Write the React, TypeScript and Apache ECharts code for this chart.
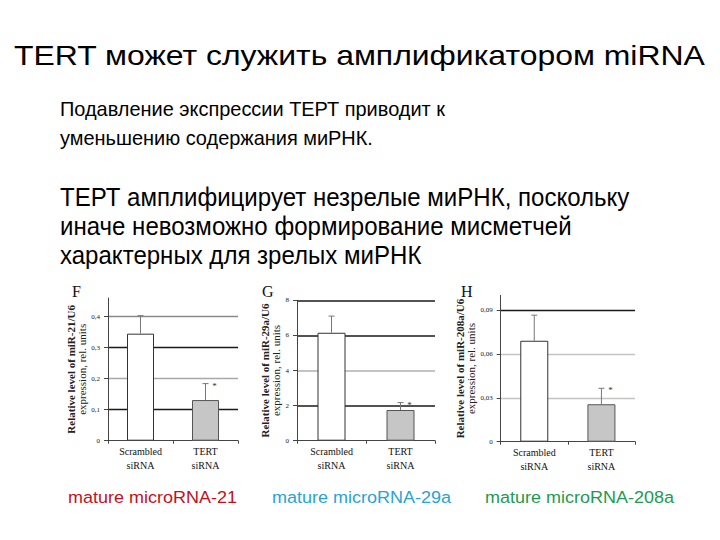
import React, { useEffect, useRef } from "react";
import * as echarts from "echarts";

// ---------- data ----------
const TITLE = "TERT может служить амплификатором miRNA";
const PARAGRAPH_1 = [
  "Подавление экспрессии ТЕРТ приводит к",
  "уменьшению содержания миРНК.",
];
const PARAGRAPH_2 = [
  "ТЕРТ амплифицирует незрелые миРНК, поскольку",
  "иначе невозможно формирование мисметчей",
  "характерных для зрелых миРНК",
];
const CATEGORIES = ["Scrambled\nsiRNA", "TERT\nsiRNA"];
const PANEL_LETTERS = ["F", "G", "H"];
const PANEL_CAPTIONS = ["mature microRNA-21", "mature microRNA-29a", "mature microRNA-208a"];
const Y_TITLES = ["Relative level of miR-21/U6", "Relative level of miR-29a/U6", "Relative level of miR-208a/U6"];
const Y_TITLE_LINE2 = "expression, rel. units";

const MIR21_VALUES = [0.345, 0.131];
const MIR21_ERROR_TOPS = [0.403, 0.184];
const MIR29A_VALUES = [6.15, 1.75];
const MIR29A_ERROR_TOPS = [7.1, 2.17];
const MIR208A_VALUES = [0.069, 0.0256];
const MIR208A_ERROR_TOPS = [0.0865, 0.0365];
const SIGNIFICANCE = ["", "*"];

const Y_MAX = [0.46, 8, 0.1];
const Y_INTERVAL = [0.1, 2, 0.03];

// ---------- styling / layout ----------
const SANS = '"Liberation Sans", Arial, sans-serif';
const SERIF = '"Liberation Serif", "Times New Roman", serif';
const CAPTION_COLORS = ["#c0121c", "#2aa3d4", "#1e9a50"];
const GRIDS = [
  { left: 108, top: 298, width: 130, bottom: 99.3 },
  { left: 297, top: 300.3, width: 138, bottom: 99.3 },
  { left: 500.7, top: 295.4, width: 134.3, bottom: 98.3 },
];
const NAME_GAPS = [18, 16, 21];
const BAR_WIDTHS = [27, 28, 28];
const SPLIT_COLORS = [
  ["transparent", "#1a1a1a", "#a8a8a8", "#1a1a1a", "#8a8a8a", "transparent"],
  ["transparent", "#1a1a1a", "#b0b0b0", "#1a1a1a", "#1a1a1a"],
  ["transparent", "#c4c4c4", "#c4c4c4", "#1a1a1a", "transparent"],
];
const LETTER_POS = [
  [72, 291],
  [262, 291],
  [461, 291],
];

function measure(text: string, font: string): number {
  const c = document.createElement("canvas");
  const ctx = c.getContext("2d");
  if (!ctx) return text.length * 10;
  ctx.font = font;
  return ctx.measureText(text).width;
}

function fmt(v: number): string {
  if (v === 0) return "0";
  return String(+v.toFixed(3)).replace(".", ",");
}

export default function App() {
  const ref = useRef<HTMLDivElement>(null);

  useEffect(() => {
    if (!ref.current) return;
    const chart = echarts.init(ref.current, undefined, { renderer: "svg" });

    const values = [MIR21_VALUES, MIR29A_VALUES, MIR208A_VALUES];
    const errs = [MIR21_ERROR_TOPS, MIR29A_ERROR_TOPS, MIR208A_ERROR_TOPS];

    const P1_FONT = `21px ${SANS}`;
    const P2_FONT = `25px ${SANS}`;
    // horizontal compression factors to match the slide's squeezed text
    const titleScale = 692 / measure(TITLE, `28px ${SANS}`);
    const p1Scale = 385 / measure(PARAGRAPH_1[0], P1_FONT);
    const p2Scale = 570 / measure(PARAGRAPH_2[0], P2_FONT);
    const capScale = 169 / measure(PANEL_CAPTIONS[0], `17px ${SANS}`);

    const graphics: any[] = [];
    graphics.push({
      type: "text",
      x: 14,
      y: 55,
      scaleX: titleScale,
      style: { text: TITLE, font: `28px ${SANS}`, fill: "#000", verticalAlign: "middle", align: "left" },
    });
    const p1Y = [108, 137];
    PARAGRAPH_1.forEach((t, i) =>
      graphics.push({
        type: "text",
        x: 60,
        y: p1Y[i],
        scaleX: p1Scale,
        style: { text: t, font: P1_FONT, fill: "#000", verticalAlign: "middle", align: "left" },
      })
    );
    const p2Y = [197, 226, 255];
    PARAGRAPH_2.forEach((t, i) =>
      graphics.push({
        type: "text",
        x: 60,
        y: p2Y[i],
        scaleX: p2Scale,
        style: { text: t, font: P2_FONT, fill: "#000", verticalAlign: "middle", align: "left" },
      })
    );
    const capX = [68, 272, 485];
    PANEL_CAPTIONS.forEach((t, i) =>
      graphics.push({
        type: "text",
        x: capX[i],
        y: 497,
        scaleX: capScale,
        style: { text: t, font: `17px ${SANS}`, fill: CAPTION_COLORS[i], verticalAlign: "middle", align: "left" },
      })
    );
    PANEL_LETTERS.forEach((t, i) =>
      graphics.push({
        type: "text",
        x: LETTER_POS[i][0],
        y: LETTER_POS[i][1],
        style: { text: t, font: `16px ${SERIF}`, fill: "#111", verticalAlign: "middle", align: "left" },
      })
    );

    const grid = GRIDS.map((g) => ({ ...g, containLabel: false }));
    const xAxis = GRIDS.map((_, i) => ({
      type: "category",
      gridIndex: i,
      data: CATEGORIES,
      axisLine: { show: true, lineStyle: { color: "#444", width: 1 } },
      axisTick: { show: true, length: 3, lineStyle: { color: "#444" } },
      axisLabel: { fontFamily: SERIF, fontSize: 10, lineHeight: 14, color: "#111", margin: 4 },
      splitLine: { show: false },
    }));
    const yAxis = GRIDS.map((_, i) => ({
      type: "value",
      gridIndex: i,
      min: 0,
      max: Y_MAX[i],
      interval: Y_INTERVAL[i],
      axisLine: { show: true, lineStyle: { color: "#444", width: 1 } },
      axisTick: { show: true, length: 4, lineStyle: { color: "#444" } },
      axisLabel: {
        fontFamily: SERIF,
        fontSize: 7,
        color: "#222",
        margin: 8,
        formatter: (v: number) => fmt(v),
        showMaxLabel: i === 1,
      },
      splitLine: { show: true, lineStyle: { color: SPLIT_COLORS[i], width: i === 1 ? 1.6 : 1.3 } },
      name: `{a|${Y_TITLES[i]}}\n{b|${Y_TITLE_LINE2}}`,
      nameLocation: "middle",
      nameRotate: 90,
      nameGap: NAME_GAPS[i],
      nameTextStyle: {
        rich: {
          a: { fontFamily: SERIF, fontSize: 11, fontWeight: "bold", color: "#222", lineHeight: 11 },
          b: { fontFamily: SERIF, fontSize: 11, color: "#222", lineHeight: 11 },
        },
      },
    }));

    const series: any[] = [];
    GRIDS.forEach((_, i) => {
      series.push({
        type: "bar",
        xAxisIndex: i,
        yAxisIndex: i,
        barWidth: BAR_WIDTHS[i],
        z: 2,
        data: values[i].map((v, j) => ({
          value: v,
          itemStyle:
            j === 0
              ? { color: "#ffffff", borderColor: "#333", borderWidth: 1 }
              : { color: "#c6c6c6", borderColor: "#555", borderWidth: 1 },
        })),
      });
      series.push({
        type: "custom",
        xAxisIndex: i,
        yAxisIndex: i,
        z: 3,
        encode: { x: 0, y: [1, 2] },
        data: values[i].map((v, j) => [j, v, errs[i][j], SIGNIFICANCE[j]]),
        renderItem: (params: any, api: any) => {
          const base = api.coord([api.value(0), api.value(1)]);
          const top = api.coord([api.value(0), api.value(2)]);
          const children: any[] = [
            {
              type: "line",
              shape: { x1: base[0], y1: base[1], x2: top[0], y2: top[1] },
              style: { stroke: "#777", lineWidth: 1 },
            },
            {
              type: "line",
              shape: { x1: top[0] - 3, y1: top[1], x2: top[0] + 3, y2: top[1] },
              style: { stroke: "#777", lineWidth: 1 },
            },
          ];
          const star = SIGNIFICANCE[params.dataIndex];
          if (star) {
            children.push({
              type: "text",
              x: top[0] + 9,
              y: top[1] + 2,
              style: { text: star, font: `9px ${SERIF}`, fill: "#333", align: "center", verticalAlign: "middle" },
            });
          }
          return { type: "group", children };
        },
      });
    });

    chart.setOption({
      animation: false,
      backgroundColor: "#ffffff",
      grid,
      xAxis,
      yAxis,
      series,
      graphic: graphics,
    });

    return () => chart.dispose();
  }, []);

  return (
    <div
      ref={ref}
      style={{ position: "fixed", left: 0, top: 0, width: 720, height: 540, background: "#fff" }}
    />
  );
}
